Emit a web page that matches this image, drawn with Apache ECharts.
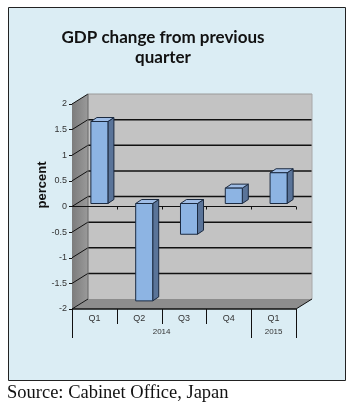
<!DOCTYPE html>
<html><head><meta charset="utf-8">
<script src="https://cdn.jsdelivr.net/npm/echarts@6/dist/echarts.min.js"></script>
<style>html,body{margin:0;padding:0;background:#fff}#c{width:355px;height:408px}</style>
</head><body><div id="c"></div>
<script>
const categories = ['Q1','Q2','Q3','Q4','Q1'];
const years = [{label:'2014', from:0, to:3}, {label:'2015', from:4, to:4}];
const gdpChange = [1.6, -1.9, -0.6, 0.3, 0.6];
const yTicks = [-2, -1.5, -1, -0.5, 0, 0.5, 1, 1.5, 2];
const titleText = 'GDP change from previous\nquarter';
const yName = 'percent';
const sourceText = 'Source: Cabinet Office, Japan';

const DX = 16, DY = -10; // wall depth
const chart = echarts.init(document.getElementById('c'), null, {renderer:'canvas'});

function frameItem(params, api) {
  const cs = params.coordSys;
  const x0 = cs.x, x1 = cs.x + cs.width;
  const yT = api.coord([0, 2])[1], yB = api.coord([0, -2])[1];
  const ch = [];
  ch.push({type:'polygon', shape:{points:[[x0,yT],[x0+DX,yT+DY],[x0+DX,yB+DY],[x0,yB]]},
    style:{fill:new echarts.graphic.LinearGradient(0,0,1,0,[{offset:0,color:'#7c7c7c'},{offset:1,color:'#9a9a9a'}]), stroke:null}});
  ch.push({type:'rect', shape:{x:x0+DX, y:yT+DY, width:x1-x0, height:yB-yT},
    style:{fill:'#c3c3c3', stroke:null}});
  ch.push({type:'polygon', shape:{points:[[x0,yB],[x1,yB],[x1+DX,yB+DY],[x0+DX,yB+DY]]},
    style:{fill:'#8d8d8d', stroke:null}});
  yTicks.forEach(v => {
    const y = api.coord([0, v])[1];
    if (v > -2 && v < 2) {
      ch.push({type:'line', shape:{x1:x0+DX, y1:y+DY, x2:x1+DX, y2:y+DY}, style:{stroke:'#111', lineWidth:1.5}});
    }
    ch.push({type:'line', shape:{x1:x0, y1:y, x2:x0+DX, y2:y+DY}, style:{stroke:'#111', lineWidth:1}});
  });
  ch.push({type:'line', shape:{x1:x0+DX, y1:yT+DY, x2:x1+DX, y2:yT+DY}, style:{stroke:'#9a9a9a', lineWidth:1}});
  ch.push({type:'line', shape:{x1:x0+DX, y1:yT+DY, x2:x0+DX, y2:yB+DY}, style:{stroke:'#666', lineWidth:1}});
  ch.push({type:'line', shape:{x1:x1+DX, y1:yT+DY, x2:x1+DX, y2:yB+DY}, style:{stroke:'#a8a8a8', lineWidth:1}});
  ch.push({type:'line', shape:{x1:x0, y1:yB, x2:x1, y2:yB}, style:{stroke:'#111', lineWidth:1.5}});
  ch.push({type:'line', shape:{x1:x1, y1:yB, x2:x1+DX, y2:yB+DY}, style:{stroke:'#111', lineWidth:1}});
  const y0 = api.coord([0, 0])[1];
  ch.push({type:'line', shape:{x1:x0, y1:y0, x2:x1, y2:y0}, style:{stroke:'#111', lineWidth:1}});
  const bw = cs.width / categories.length;
  for (let i = 1; i <= categories.length; i++) {
    const x = Math.round(x0 + i*bw) + 0.5;
    ch.push({type:'line', shape:{x1:x, y1:y0, x2:x, y2:y0+3}, style:{stroke:'#111', lineWidth:1}});
  }
  const yearEdges = new Set([0]);
  years.forEach(g => { yearEdges.add(g.from); yearEdges.add(g.to + 1); });
  for (let i = 0; i <= categories.length; i++) {
    const x = Math.round(x0 + i*bw) + 0.5;
    const long = yearEdges.has(i);
    ch.push({type:'line', shape:{x1:x, y1:yB, x2:x, y2:yB + (long ? 29 : 15)}, style:{stroke:'#111', lineWidth:1}});
  }
  years.forEach(g => {
    const cx = x0 + (g.from + g.to + 1) / 2 * bw;
    ch.push({type:'text', style:{text:g.label, x:cx, y:yB+23, align:'center', verticalAlign:'middle',
      font:'8px "Liberation Sans", Arial, sans-serif', fill:'#333'}});
  });
  return {type:'group', children:ch};
}

function barItem(params, api) {
  const idx = api.value(0), val = api.value(1);
  const p0 = api.coord([idx, 0]), p1 = api.coord([idx, val]);
  const bw = api.size([1, 0])[0] * 0.38;
  const ox = 5, oy = -3, dx = 6, dy = -4;
  const cx = p0[0] + ox;
  const xl = cx - bw/2, xr = cx + bw/2;
  const ya = Math.min(p0[1], p1[1]) + oy, yb = Math.max(p0[1], p1[1]) + oy;
  const st = {stroke:'#1b2a40', lineWidth:1, lineJoin:'round'};
  return {type:'group', children:[
    {type:'polygon', shape:{points:[[xr,ya],[xr+dx,ya+dy],[xr+dx,yb+dy],[xr,yb]]}, style:Object.assign({fill:'#5a7499'}, st)},
    {type:'polygon', shape:{points:[[xl,ya],[xr,ya],[xr+dx,ya+dy],[xl+dx,ya+dy]]}, style:Object.assign({fill:'#9fbde6'}, st)},
    {type:'rect', shape:{x:xl, y:ya, width:bw, height:yb-ya}, style:Object.assign({fill:'#8db4e3'}, st)}
  ]};
}

chart.setOption({
  animation:false,
  backgroundColor:'#ffffff',
  title:{text:titleText, left:158, top:23, textAlign:'center',
    textStyle:{fontFamily:'Lato, "Open Sans", sans-serif', fontWeight:'bold', fontSize:17, lineHeight:20, color:'#111'}},
  graphic:[
    {type:'rect', z:-10, shape:{x:8.5, y:7.5, width:337, height:373}, style:{fill:'#dbedf4', stroke:'#222', lineWidth:1}},
    {type:'text', left:7, top:384, style:{text:sourceText, font:'18.5px "Liberation Serif", "Times New Roman", serif', fill:'#111'}},
    {type:'text', x:42, y:185, rotation:Math.PI/2, style:{text:yName, align:'center', verticalAlign:'middle',
      font:'bold 13px "Liberation Sans", Arial, sans-serif', fill:'#111'}}
  ],
  grid:{left:72, right:59, top:104, bottom:99, containLabel:false},
  xAxis:{type:'category', data:categories, boundaryGap:true,
    axisLine:{show:false}, axisTick:{show:false},
    axisLabel:{margin:5, fontSize:9, color:'#333', fontFamily:'"Liberation Sans", Arial, sans-serif'}},
  yAxis:{type:'value', min:-2, max:2, interval:0.5,
    axisLine:{show:true, lineStyle:{color:'#111', width:1}},
    axisTick:{show:true, length:3, lineStyle:{color:'#111'}},
    splitLine:{show:false},
    axisLabel:{margin:5, fontSize:9, color:'#333', fontFamily:'"Liberation Sans", Arial, sans-serif'}},
  series:[
    {type:'custom', name:'frame', renderItem:frameItem, data:[[0,0]], clip:false, z:1, silent:true},
    {type:'custom', name:'GDP', renderItem:barItem, data:gdpChange.map((v,i)=>[i,v]), clip:false, z:5, encode:{x:0, y:1}}
  ]
});
</script></body></html>
